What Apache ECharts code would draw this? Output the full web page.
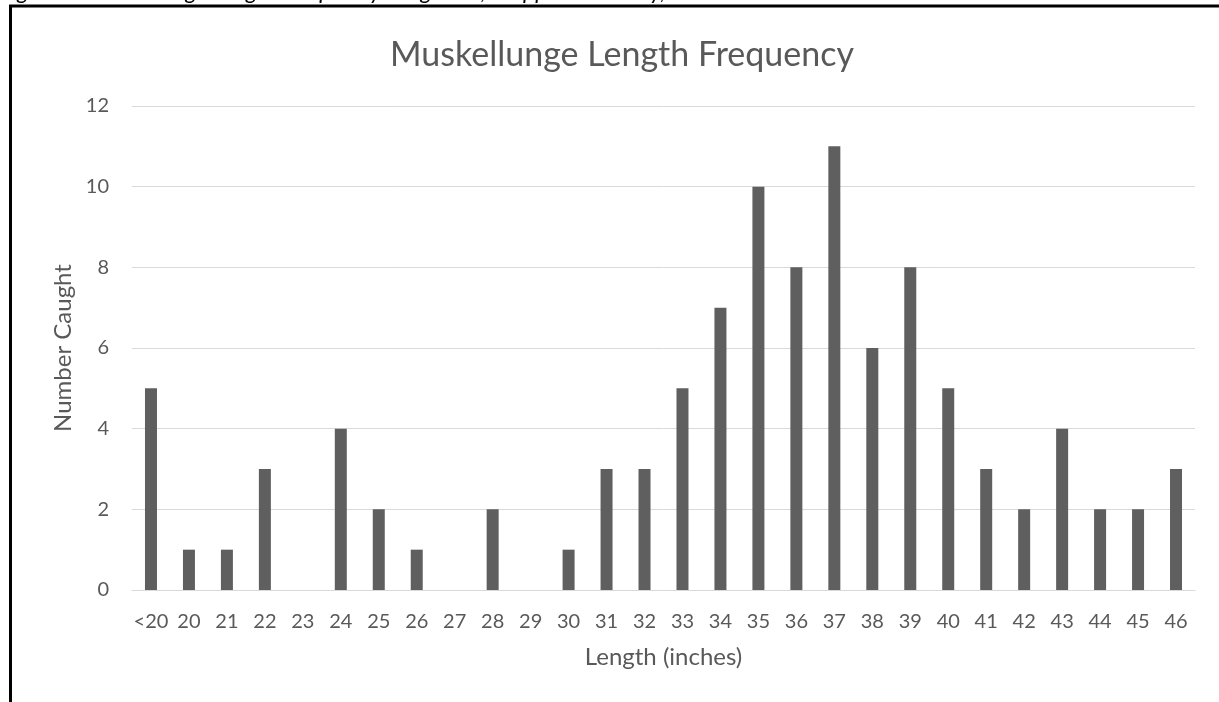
<!DOCTYPE html>
<html>
<head>
<meta charset="utf-8">
<script src="https://cdn.jsdelivr.net/npm/echarts@6/dist/echarts.min.js"></script>
<style>
    html, body { margin: 0; padding: 0; background: #fff; }
    #chart { width: 1219px; height: 702px; }
</style>
</head>
<body>
<div id="chart"></div>
<script>
// length classes and catch counts
var lengthClasses = ['<20', '20', '21', '22', '23', '24', '25', '26', '27', '28', '29', '30', '31', '32', '33', '34', '35', '36', '37', '38', '39', '40', '41', '42', '43', '44', '45', '46'];
var numberCaught = [5, 1, 1, 3, 0, 4, 2, 1, 0, 2, 0, 1, 3, 3, 5, 7, 10, 8, 11, 6, 8, 5, 3, 2, 4, 2, 2, 3];
var yTicks = {min: 0, max: 12, step: 2};

var captionText = 'Figure 1. Muskellunge Length Frequency Long Lake, Chippewa County, 2017 and 2022';
var fontName = 'Lato, "Open Sans", sans-serif';

var chart = echarts.init(document.getElementById('chart'));
var option = {
    backgroundColor: '#fff',
    animation: false,
    title: {
        text: 'Muskellunge Length Frequency',
        left: 617,
        textAlign: 'center',
        top: 33,
        textStyle: { fontFamily: fontName, fontSize: 34, fontWeight: 'normal', color: '#595959' }
    },
    graphic: [
        // frame around the chart
        {
            type: 'rect',
            shape: { x: 10.5, y: 6, width: 1400, height: 900 },
            style: { fill: 'none', stroke: '#000', lineWidth: 3 },
            silent: true
        },
        // caption, cut at the top of the page
        {
            type: 'text',
            style: {
                x: 0, y: 3,
                text: captionText,
                font: 'italic 23px ' + fontName,
                fill: '#000',
                verticalAlign: 'bottom'
            },
            silent: true
        }
    ],
    grid: { left: 132, right: 24, top: 106, bottom: 112 },
    xAxis: {
        type: 'category',
        data: lengthClasses,
        name: 'Length (inches)',
        nameLocation: 'middle',
        nameGap: 55,
        nameTextStyle: { fontFamily: fontName, fontSize: 24, color: '#595959' },
        axisLine: { lineStyle: { color: '#d9d9d9', width: 1 } },
        axisTick: { show: false },
        axisLabel: { fontFamily: fontName, fontSize: 20, color: '#595959', margin: 22, interval: 0 }
    },
    yAxis: {
        type: 'value',
        min: yTicks.min,
        max: yTicks.max,
        interval: yTicks.step,
        name: 'Number Caught',
        nameLocation: 'middle',
        nameGap: 56,
        nameTextStyle: { fontFamily: fontName, fontSize: 24, color: '#595959' },
        axisLine: { show: false },
        axisTick: { show: false },
        axisLabel: { fontFamily: fontName, fontSize: 20, color: '#595959', margin: 23 },
        splitLine: { lineStyle: { color: '#d9d9d9', width: 1 } }
    },
    series: [{
        type: 'bar',
        data: numberCaught,
        barWidth: 12,
        itemStyle: { color: '#5f5f5f' }
    }]
};
chart.setOption(option);
</script>
</body>
</html>
